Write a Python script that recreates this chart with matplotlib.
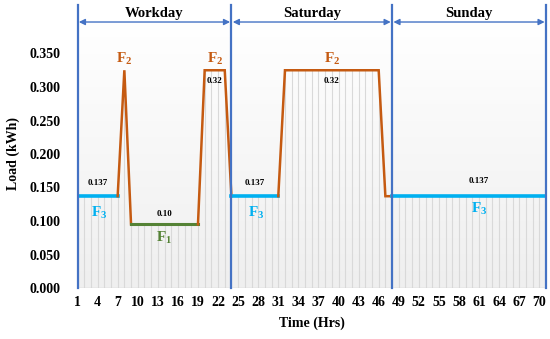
import numpy as np
import matplotlib
matplotlib.use("Agg")
import matplotlib.pyplot as plt
from matplotlib.colors import LinearSegmentedColormap

plt.rcParams['font.family'] = ['Liberation Serif', 'DejaVu Serif']
plt.rcParams['mathtext.fontset'] = 'custom'
plt.rcParams['mathtext.bf'] = 'Liberation Serif:bold'
plt.rcParams['mathtext.rm'] = 'Liberation Serif:bold'

# ---- data ----
hours = list(range(1, 72))
load = ([0.137] * 7 + [0.325] + [0.095] * 11 + [0.325] * 4 +
        [0.137] * 8 + [0.325] * 15 + [0.137] * 25)
# colored segments (start hour, end hour, tariff band)
segments = [(1, 7, 'F3'), (7, 9, 'F2'), (9, 19, 'F1'), (19, 24, 'F2'),
            (24, 31, 'F3'), (31, 48, 'F2'), (48, 71, 'F3')]
band_colors = {'F1': '#548235', 'F2': '#c55a11', 'F3': '#00b0f0'}
band_lw = {'F1': 2.2, 'F2': 1.8, 'F3': 2.6}
day_names = ['Workday', 'Saturday', 'Sunday']
day_bounds = [1, 24, 48, 71]
xtick_vals = list(range(1, 71, 3))
ytick_vals = [0.0, 0.05, 0.10, 0.15, 0.20, 0.25, 0.30, 0.35]
# value annotations (hour, y, text)
value_labels = [(4, 0.157, '0.137'), (14, 0.111, '0.10'), (21.5, 0.309, '0.32'),
                (27.5, 0.157, '0.137'), (39, 0.309, '0.32'), (61, 0.159, '0.137')]
band_labels = [(8, 0.343, 'F2'), (21.5, 0.343, 'F2'), (39, 0.343, 'F2'),
               (4.3, 0.112, 'F3'), (27.7, 0.112, 'F3'), (61, 0.119, 'F3'),
               (14, 0.075, 'F1')]

fig = plt.figure(figsize=(5.5, 3.39), dpi=100)
ax = fig.add_axes([77.5 / 550, 51 / 339, (546 - 77.5) / 550, (288 - 20) / 339])
x0, x1, y0, y1 = 1, 71, 0, 0.4
ax.set_xlim(x0, x1)
ax.set_ylim(y0, y1)

# gradient background (white at top, light grey at bottom)
grad = np.linspace(0, 1, 256).reshape(-1, 1)
cmap = LinearSegmentedColormap.from_list('bg', ['#ffffff', '#efefef'])
ax.imshow(grad, aspect='auto', cmap=cmap, extent=[x0, x1, y0, y1],
          origin='upper', zorder=0)

# drop lines
ax.vlines(hours, 0, load, colors='#d9d9d9', lw=0.8, zorder=1)
ax.axhline(0, color='#d0d0d0', lw=1, zorder=1)

# load line by segment
h = np.array(hours)
v = np.array(load)
for s, e, band in segments:
    m = (h >= s) & (h <= e)
    ax.plot(h[m], v[m], color=band_colors[band], lw=band_lw[band],
            solid_joinstyle='miter', zorder=3)

# day boundaries
blue = '#4472c4'
for b in day_bounds:
    ax.plot([b, b], [0, 0.422], color=blue, lw=1.6, clip_on=False, zorder=4)
for i, name in enumerate(day_names):
    a, b = day_bounds[i], day_bounds[i + 1]
    ax.annotate('', xy=(b - 0.2, 0.397), xytext=(a + 0.2, 0.397),
                arrowprops=dict(arrowstyle='<|-|>', color=blue, lw=1,
                                mutation_scale=9, shrinkA=0, shrinkB=0),
                annotation_clip=False)
    ax.text((a + b) / 2, 0.409, name, ha='center', va='center',
            fontsize=10.5, fontweight='bold', clip_on=False)

for x, y, t in value_labels:
    ax.text(x, y, t, ha='center', va='center', fontsize=6.5, fontweight='bold')
for x, y, t in band_labels:
    ax.text(x, y, r'$\mathbf{F}_{\mathbf{%s}}$' % t[1], ha='center', va='center',
            fontsize=11, color=band_colors[t])

ax.set_xticks(xtick_vals)
ax.set_xticklabels([str(t) for t in xtick_vals])
ax.set_yticks(ytick_vals)
ax.set_yticklabels(['%.3f' % t for t in ytick_vals])
ax.tick_params(axis='both', length=0, labelsize=10)
ax.tick_params(axis='y', pad=12)
ax.tick_params(axis='x', pad=6)
for lab in ax.get_xticklabels() + ax.get_yticklabels():
    lab.set_fontweight('bold')
for sp in ax.spines.values():
    sp.set_visible(False)

ax.set_xlabel('Time (Hrs)', fontsize=10, fontweight='bold', labelpad=5)
ax.set_ylabel('Load (kWh)', fontsize=10, fontweight='bold', labelpad=7)

fig.savefig('out.png', dpi=100)
